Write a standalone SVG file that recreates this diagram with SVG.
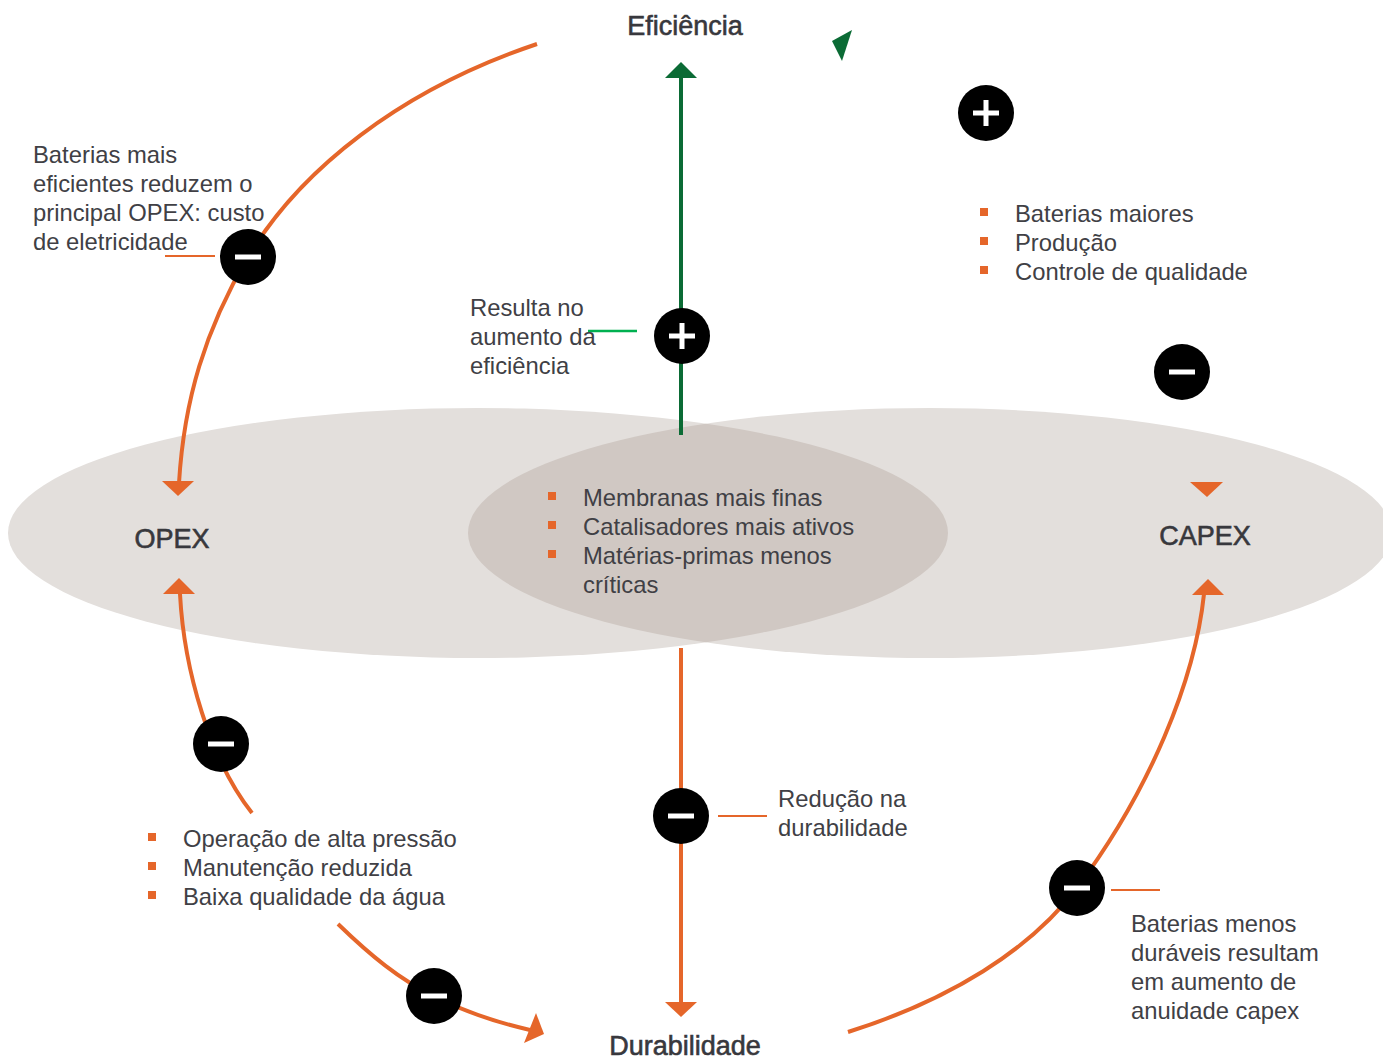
<svg xmlns="http://www.w3.org/2000/svg" width="1383" height="1062" viewBox="0 0 1383 1062">
<defs>
<style>
.t{font-family:"Liberation Sans",Arial,sans-serif;font-size:23.8px;fill:#404045}
.h{font-family:"Liberation Sans",Arial,sans-serif;font-size:27px;fill:#38383d;stroke:#38383d;stroke-width:0.6;text-anchor:middle}
.o{fill:none;stroke:#e5662a;stroke-width:4}
.g{fill:none;stroke:#0b6b35;stroke-width:4}
.b{fill:#e5662a}
.c{fill:#000}
.w{fill:#fff}
</style>
<clipPath id="cl"><ellipse cx="478" cy="533" rx="470" ry="125"/></clipPath>
<g id="minus"><circle r="28" class="c"/><rect x="-13" y="-2.5" width="26" height="5" class="w"/></g>
<g id="plus"><circle r="28" class="c"/><rect x="-13" y="-2.5" width="26" height="5" class="w"/><rect x="-2.5" y="-13" width="5" height="26" class="w"/></g>
</defs>
<rect width="1383" height="1062" fill="#fff"/>
<g id="ellipses">
<ellipse cx="478" cy="533" rx="470" ry="125" fill="#e3dfdc"/>
<ellipse cx="930" cy="533" rx="462" ry="125" fill="#e3dfdc"/>
<ellipse cx="930" cy="533" rx="462" ry="125" fill="#d0c8c3" clip-path="url(#cl)"/>
</g>
<g id="connectors">
<path class="g" d="M681,435 V76"/>
<polygon fill="#0b6b35" points="665,78 697,78 681,62"/>
<polygon fill="#0b6b35" points="852,30 832,41 842,61"/>
<line x1="588" y1="331" x2="637" y2="331" stroke="#00b050" stroke-width="2.5"/>
<path class="o" d="M537,44 C400,90 300,170 248,257 C205,330 184,400 179,483"/>
<polygon class="b" points="162,481 194,481 178,496"/>
<line x1="165" y1="256" x2="215" y2="256" stroke="#e5662a" stroke-width="2"/>
<path class="o" d="M180,594 C184,670 210,760 252,813"/>
<polygon class="b" points="163,594 195,594 179,578"/>
<path class="o" d="M338,924 C370,955 400,980 434,996 C465,1012 495,1022 530,1030"/>
<polygon class="b" points="536,1013 544,1034 524,1043"/>
<path class="o" d="M681,648 V1003"/>
<polygon class="b" points="665,1002 697,1002 681,1017"/>
<line x1="718" y1="816" x2="767" y2="816" stroke="#e5662a" stroke-width="2"/>
<path class="o" d="M848,1032 C950,1000 1030,950 1077,888 C1150,790 1195,680 1204,594"/>
<polygon class="b" points="1192,595 1224,595 1208,579"/>
<polygon class="b" points="1190,482 1223,482 1207,497"/>
<line x1="1111" y1="890" x2="1160" y2="890" stroke="#e5662a" stroke-width="2"/>
</g>
<g id="node-eficiencia"><text class="h" x="685" y="35">Eficiência</text></g>
<g id="node-opex"><text class="h" x="172" y="548">OPEX</text></g>
<g id="node-capex"><text class="h" x="1205" y="545">CAPEX</text></g>
<g id="node-durabilidade"><text class="h" x="685" y="1055">Durabilidade</text></g>
<g id="signs">
<use href="#minus" x="248" y="257"/>
<use href="#plus" x="682" y="336"/>
<use href="#plus" x="986" y="113"/>
<use href="#minus" x="1182" y="372"/>
<use href="#minus" x="221" y="744"/>
<use href="#minus" x="434" y="996"/>
<use href="#minus" x="681" y="816"/>
<use href="#minus" x="1077" y="888"/>
</g>
<g id="label-opex-top">
<text class="t" x="33" y="163">Baterias mais</text>
<text class="t" x="33" y="192">eficientes reduzem o</text>
<text class="t" x="33" y="221">principal OPEX: custo</text>
<text class="t" x="33" y="250">de eletricidade</text>
</g>
<g id="label-eficiencia">
<text class="t" x="470" y="316">Resulta no</text>
<text class="t" x="470" y="345">aumento da</text>
<text class="t" x="470" y="374">eficiência</text>
</g>
<g id="label-capex-top">
<rect class="b" x="980" y="208" width="8" height="8"/>
<rect class="b" x="980" y="237" width="8" height="8"/>
<rect class="b" x="980" y="266" width="8" height="8"/>
<text class="t" x="1015" y="222">Baterias maiores</text>
<text class="t" x="1015" y="251">Produção</text>
<text class="t" x="1015" y="280">Controle de qualidade</text>
</g>
<g id="label-center">
<rect class="b" x="548" y="492" width="8" height="8"/>
<rect class="b" x="548" y="521" width="8" height="8"/>
<rect class="b" x="548" y="550" width="8" height="8"/>
<text class="t" x="583" y="506">Membranas mais finas</text>
<text class="t" x="583" y="535">Catalisadores mais ativos</text>
<text class="t" x="583" y="564">Matérias-primas menos</text>
<text class="t" x="583" y="593">críticas</text>
</g>
<g id="label-opex-bottom">
<rect class="b" x="148" y="833" width="8" height="8"/>
<rect class="b" x="148" y="862" width="8" height="8"/>
<rect class="b" x="148" y="891" width="8" height="8"/>
<text class="t" x="183" y="847">Operação de alta pressão</text>
<text class="t" x="183" y="876">Manutenção reduzida</text>
<text class="t" x="183" y="905">Baixa qualidade da água</text>
</g>
<g id="label-durabilidade">
<text class="t" x="778" y="807">Redução na</text>
<text class="t" x="778" y="836">durabilidade</text>
</g>
<g id="label-capex-bottom">
<text class="t" x="1131" y="932">Baterias menos</text>
<text class="t" x="1131" y="961">duráveis resultam</text>
<text class="t" x="1131" y="990">em aumento de</text>
<text class="t" x="1131" y="1019">anuidade capex</text>
</g>
</svg>
